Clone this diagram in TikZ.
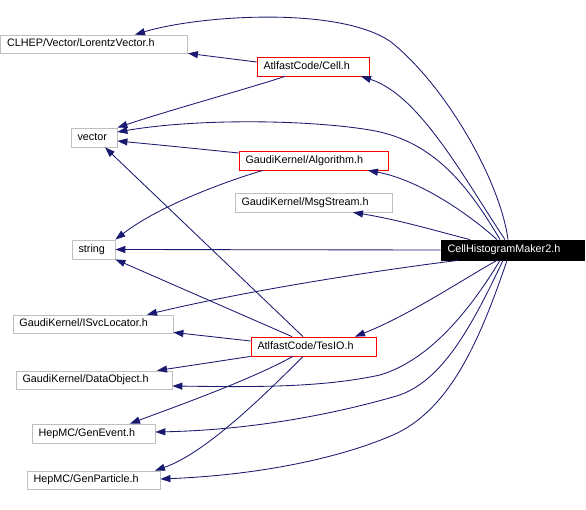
\documentclass[tikz,border=0pt]{standalone}
\usepackage{fontspec}
\setmainfont{Liberation Sans}
\usetikzlibrary{arrows.meta}
\definecolor{navyc}{RGB}{25,25,112}
\definecolor{boxgray}{RGB}{191,191,191}
\tikzset{
  box/.style={line width=0.8pt, inner xsep=6.5pt, inner ysep=0pt, align=left,
    font=\fontsize{10.8}{12}\selectfont, text height=7.9pt, text depth=2.2pt},
  ext/.style={box, draw=boxgray},
  intl/.style={box, draw=red},
  main/.style={box, draw=black, fill=black, text=white},
  edge/.style={draw=navyc, line width=0.85pt, -{Triangle[length=10pt,width=7pt]}, fill=none}
}
\begin{document}
\begin{tikzpicture}[x=1pt,y=-1pt]
\useasboundingbox (0,0) rectangle (586,510);
% nodes
\node[ext, text width=174pt, minimum height=18pt] (lv) at (94,44) {CLHEP/Vector/LorentzVector.h};
\node[intl, text width=99pt, minimum height=19pt] (cell) at (313,66.5) {AtlfastCode/Cell.h};
\node[ext, text width=33pt, minimum height=19pt] (vec) at (94,137.5) {vector};
\node[intl, text width=136pt, minimum height=19pt] (alg) at (313.5,160.5) {GaudiKernel/Algorithm.h};
\node[ext, text width=144pt, minimum height=19pt] (msg) at (313.5,202.5) {GaudiKernel/MsgStream.h};
\node[ext, text width=30pt, minimum height=19pt] (str) at (93.5,249.5) {string};
\node[main, text width=130pt, minimum height=20pt] (chm) at (512.5,250) {CellHistogramMaker2.h};
\node[ext, text width=147pt, minimum height=18pt] (isvc) at (93,324) {GaudiKernel/ISvcLocator.h};
\node[intl, text width=112pt, minimum height=19pt] (tesio) at (313.5,346.5) {AtlfastCode/TesIO.h};
\node[ext, text width=143pt, minimum height=18pt] (dobj) at (94,380) {GaudiKernel/DataObject.h};
\node[ext, text width=110pt, minimum height=19pt] (genev) at (93.5,433.5) {HepMC/GenEvent.h};
\node[ext, text width=120pt, minimum height=18pt] (genp) at (93.5,480) {HepMC/GenParticle.h};
% edges from CellHistogramMaker2.h
\draw[edge] ([xshift=-4.5pt]chm.north) .. controls (500,180) and (445,85) .. (391,42)
  .. controls (340,6) and (200,15) .. ([xshift=41pt]lv.north);
\draw[edge] ([xshift=-7.5pt]chm.north) .. controls (465,180) and (420,95) .. ([xshift=48pt]cell.south);
\draw[edge] ([xshift=-12.5pt]chm.north) .. controls (465,180) and (430,140) .. (370,130)
  .. controls (310,120) and (200,118) .. ([yshift=5.5pt]vec.east);
\draw[edge] ([xshift=-15.5pt]chm.north) .. controls (470,215) and (420,180) .. ([xshift=54.5pt]alg.south);
\draw[edge] ([xshift=-42.5pt]chm.north) .. controls (440,232) and (400,220) .. ([xshift=39.5pt]msg.south);
\draw[edge] (chm.west) -- (str.east);
\draw[edge] ([xshift=-54.5pt]chm.south) .. controls (380,270) and (250,290) .. ([xshift=54pt]isvc.north);
\draw[edge] ([xshift=-15.5pt]chm.south) .. controls (470,275) and (410,315) .. ([xshift=41.5pt]tesio.north);
\draw[edge] ([xshift=-12.5pt]chm.south) .. controls (470,310) and (430,360) .. (380,375)
  .. controls (320,388) and (250,387) .. ([yshift=-6pt]dobj.east);
\draw[edge] ([xshift=-9.5pt]chm.south) .. controls (470,330) and (440,385) .. (393,397)
  .. controls (330,415) and (250,430) .. ([yshift=1.5pt]genev.east);
\draw[edge] ([xshift=-5.5pt]chm.south) .. controls (480,340) and (450,410) .. (393,435)
  .. controls (340,458) and (260,475) .. ([yshift=1pt]genp.east);
% edges from AtlfastCode/Cell.h
\draw[edge] ([yshift=4.5pt]cell.west) -- (lv.south east);
\draw[edge] ([xshift=-28pt]cell.south) .. controls (250,88) and (170,110) .. (vec.north east);
% edges from GaudiKernel/Algorithm.h
\draw[edge] ([yshift=7.5pt]alg.west) .. controls (200,149) and (160,145) .. ([yshift=-3.5pt]vec.east);
\draw[edge] ([xshift=-50.5pt]alg.south) .. controls (230,180) and (160,205) .. (str.north east);
% edges from AtlfastCode/TesIO.h
\draw[edge] ([xshift=-10.5pt]tesio.north) -- ([xshift=11pt]vec.south);
\draw[edge] ([xshift=-21.5pt]tesio.north) -- (str.south east);
\draw[edge] ([yshift=5.5pt]tesio.west) -- ([yshift=1pt]isvc.south east);
\draw[edge] (tesio.south west) -- ([xshift=63pt]dobj.north);
\draw[edge] ([xshift=-20.5pt]tesio.south) .. controls (250,380) and (180,405) .. ([xshift=36.5pt]genev.north);
\draw[edge] ([xshift=-10.5pt]tesio.south) .. controls (250,410) and (200,455) .. ([xshift=61.5pt]genp.north);
\end{tikzpicture}
\end{document}
